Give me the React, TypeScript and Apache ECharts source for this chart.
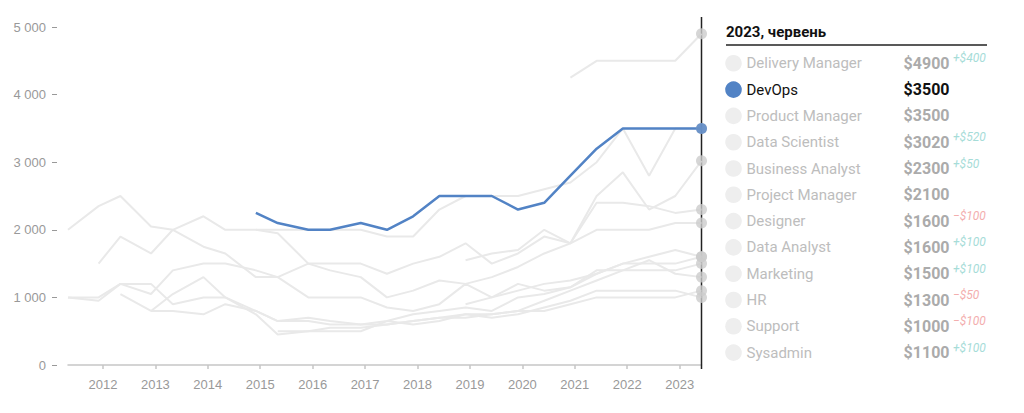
import React, { useEffect, useRef } from "react";
import * as echarts from "echarts";

// Survey dates (semi-annual salary surveys)
const surveyDates = [
  "2011-05", "2011-12", "2012-05", "2012-12", "2013-05", "2013-12", "2014-05", "2014-12",
  "2015-05", "2015-12", "2016-05", "2016-12", "2017-06", "2017-12", "2018-06", "2018-12",
  "2019-06", "2019-12", "2020-06", "2020-12", "2021-06", "2021-12", "2022-06", "2022-12",
  "2023-06",
];

const tickYears = [2012, 2013, 2014, 2015, 2016, 2017, 2018, 2019, 2020, 2021, 2022, 2023];

const periodTitle = "2023, червень";
const activeName = "DevOps";

const names = [
  "Delivery Manager", "DevOps", "Product Manager", "Data Scientist", "Business Analyst",
  "Project Manager", "Designer", "Data Analyst", "Marketing", "HR", "Support", "Sysadmin",
];

const N = null;
const deliveryManager = [N, N, N, N, N, N, N, N, N, N, N, N, N, N, N, N, N, N, N, 4250, 4500, 4500, 4500, 4500, 4900];
const devOps = [N, N, N, N, N, N, N, 2250, 2100, 2000, 2000, 2100, 2000, 2200, 2500, 2500, 2500, 2300, 2400, 2800, 3200, 3500, 3500, 3500, 3500];
const productManager = [N, 1500, 1900, 1650, 2000, 2200, 2000, 2000, 2000, 2000, 2000, 2000, 1900, 1900, 2300, 2500, 2500, 2500, 2600, 2700, 3000, 3500, 2800, 3500, 3500];
const dataScientist = [N, N, N, N, N, N, N, N, N, N, N, N, N, N, N, 1550, 1650, 1700, 2000, 1800, 2500, 2850, 2300, 2500, 3020];
const businessAnalyst = [1000, 1000, 1200, 1050, 1400, 1500, 1500, 1400, 1300, 1500, 1400, 1300, 1000, 1100, 1250, 1200, 1300, 1450, 1650, 1800, 2400, 2400, 2350, 2250, 2300];
const projectManager = [N, N, N, N, N, N, N, 2000, 1950, 1500, 1500, 1500, 1350, 1500, 1600, 1800, 1500, 1650, 1900, 1800, 2000, 2000, 2000, 2100, 2100];
const designer = [2000, 2350, 2500, 2050, 2000, 1750, 1650, 1300, 1300, 1000, 1000, 1000, 850, 800, 900, 1200, 1000, 1100, 1200, 1250, 1350, 1500, 1600, 1700, 1600];
const dataAnalyst = [N, N, N, N, N, N, N, N, N, N, N, N, N, N, N, 900, 1000, 1200, 1100, 1150, 1350, 1500, 1500, 1500, 1600];
const marketing = [1000, 950, 1200, 1200, 900, 1000, 1000, 800, 650, 650, 600, 600, 650, 750, 800, 850, 800, 1000, 1050, 1150, 1400, 1400, 1400, 1400, 1500];
const hr = [N, N, 1050, 800, 1050, 1300, 1000, 750, 450, 500, 500, 500, 650, 600, 650, 750, 750, 800, 950, 1100, 1250, 1400, 1550, 1350, 1300];
const support = [N, N, N, 800, 800, 750, 900, 800, 650, 700, 650, 600, 600, 650, 700, 750, 700, 750, 850, 950, 1100, 1100, 1100, 1100, 1000];
const sysadmin = [N, N, N, N, N, N, N, N, 500, 500, 550, 550, 600, 650, 700, 700, 750, 800, 800, 900, 1000, 1000, 1000, 1000, 1100];

const seriesValues = [
  deliveryManager, devOps, productManager, dataScientist, businessAnalyst,
  projectManager, designer, dataAnalyst, marketing, hr, support, sysadmin,
];

const BLUE = "#5283c5";
const GRAY_LINE = "#e9e9e9";
const GRAY_DOT = "#cccccc";

const toYear = (d: string) => {
  const [y, m] = d.split("-").map(Number);
  return y + (m - 1) / 12;
};

const fmtThousands = (v: number) => String(v).replace(/\B(?=(\d{3})+(?!\d))/g, " ");

export default function App() {
  const ref = useRef<HTMLDivElement>(null);

  useEffect(() => {
    document.body.style.margin = "0";
    if (!ref.current) return;
    const chart = echarts.init(ref.current, undefined, { renderer: "svg" });
    const xs = surveyDates.map(toYear);
    const lastIdx = xs.length - 1;

    const lineSeries = names.map((name, k) => {
      const vals = seriesValues[k];
      const data: [number, number][] = [];
      vals.forEach((v, i) => {
        if (v !== null && v !== undefined) data.push([xs[i], v as number]);
      });
      const active = name === activeName;
      return {
        name,
        type: "line",
        data,
        symbol: "none",
        silent: true,
        z: active ? 5 : 2,
        lineStyle: { color: active ? BLUE : GRAY_LINE, width: active ? 2.5 : 2 },
        emphasis: { disabled: true },
      };
    });

    const dotData = names
      .map((name, k) => ({ name, k }))
      .sort((a, b) => (a.name === activeName ? 1 : 0) - (b.name === activeName ? 1 : 0))
      .map(({ name, k }) => ({
        value: [xs[lastIdx], seriesValues[k][lastIdx]],
        itemStyle: { color: name === activeName ? BLUE : GRAY_DOT },
      }));

    const option: any = {
      animation: false,
      grid: { left: 68, right: 322.5, top: 27, bottom: 48 },
      xAxis: {
        type: "value",
        min: xs[0],
        max: xs[lastIdx],
        axisLine: { show: true, lineStyle: { color: "#c6c6c6", width: 1.5 } },
        axisTick: {
          show: true,
          length: 4,
          customValues: tickYears,
          lineStyle: { color: "#c6c6c6", width: 1.5 },
        },
        axisLabel: {
          customValues: tickYears,
          formatter: (v: number) => String(Math.round(v)),
          color: "#999999",
          fontSize: 13,
          fontFamily: "Liberation Sans, Arial, sans-serif",
          margin: 13,
        },
        splitLine: { show: false },
      },
      yAxis: {
        type: "value",
        min: 0,
        max: 5000,
        interval: 1000,
        offset: 11,
        axisLine: { show: false },
        axisTick: { show: true, length: 5, lineStyle: { color: "#999999", width: 1 } },
        axisLabel: {
          formatter: (v: number) => fmtThousands(v),
          color: "#999999",
          fontSize: 13,
          fontFamily: "Liberation Sans, Arial, sans-serif",
          margin: 11,
        },
        splitLine: { show: false },
      },
      series: [
        ...lineSeries,
        {
          type: "scatter",
          data: dotData,
          symbol: "circle",
          symbolSize: 11,
          z: 10,
          silent: true,
        },
      ],
    };
    chart.setOption(option);

    const cursorX = chart.convertToPixel({ xAxisIndex: 0 }, xs[lastIdx]) as number;

    const panelX = 726;
    const rowY0 = 63.3;
    const rowStep = 26.3;
    const font = "Roboto, 'Noto Sans', sans-serif";
    const graphics: any[] = [
      {
        type: "line",
        shape: { x1: cursorX, y1: 17, x2: cursorX, y2: 369 },
        style: { stroke: "#222222", lineWidth: 1.5 },
        z: 1,
      },
      {
        type: "text",
        x: panelX,
        y: 32,
        style: {
          text: periodTitle,
          fill: "#111111",
          font: `bold 15px ${font}`,
          verticalAlign: "middle",
        },
      },
      {
        type: "line",
        shape: { x1: panelX, y1: 45, x2: 987, y2: 45 },
        style: { stroke: "#222222", lineWidth: 1.5 },
      },
    ];

    names.forEach((name, k) => {
      const y = rowY0 + k * rowStep;
      const active = name === activeName;
      const vals = seriesValues[k];
      const last = vals[lastIdx] as number;
      const prev = vals[lastIdx - 1] as number | null;
      graphics.push({
        type: "circle",
        shape: { cx: 733.5, cy: y, r: 8.3 },
        style: { fill: active ? BLUE : "#eeeeee" },
      });
      graphics.push({
        type: "text",
        x: 746.5,
        y,
        style: {
          text: name,
          fill: active ? "#111111" : "#bdbdbd",
          font: `15px ${font}`,
          verticalAlign: "middle",
        },
      });
      graphics.push({
        type: "text",
        x: 949.5,
        y,
        style: {
          text: "$" + last,
          fill: active ? "#111111" : "#ababab",
          font: `bold 16px ${font}`,
          align: "right",
          verticalAlign: "middle",
        },
      });
      if (prev !== null && prev !== undefined && last !== prev) {
        const d = last - prev;
        graphics.push({
          type: "text",
          x: 953,
          y: y - 5,
          style: {
            text: (d > 0 ? "+" : "\u2212") + "$" + Math.abs(d),
            fill: d > 0 ? "#a6dcd8" : "#f3aeae",
            font: `italic 12px ${font}`,
            verticalAlign: "middle",
          },
        });
      }
    });

    chart.setOption({ graphic: graphics });

    return () => chart.dispose();
  }, []);

  return <div ref={ref} style={{ width: 1024, height: 413 }} />;
}
